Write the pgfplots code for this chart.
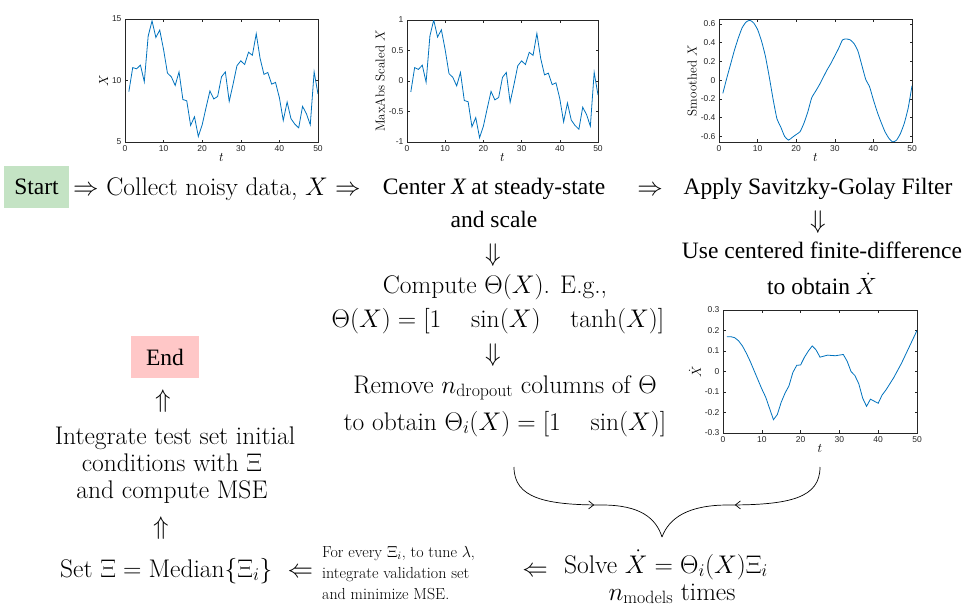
\RequirePackage{fix-cm}
\documentclass[border=0pt]{standalone}
\usepackage{fontspec}
\usepackage{pgfplots}
\usepackage{pgfplotstable}
\pgfplotsset{compat=1.18}
\usetikzlibrary{decorations.markings,arrows.meta}
\newfontfamily\gar{Liberation Serif}
\newfontfamily\tickfont{Liberation Sans}
\definecolor{mblue}{HTML}{0072BD}
\definecolor{mgray}{HTML}{262626}
\definecolor{startg}{HTML}{C4E3C4}
\definecolor{endr}{HTML}{FFC7C7}

\pgfplotstableread{
t X S G D
1 9.10 -0.18 -0.14 0.170
2 11.05 0.22 0.02 0.170
3 10.95 0.19 0.17 0.165
4 11.25 0.26 0.32 0.150
5 9.90 -0.02 0.45 0.125
6 13.60 0.74 0.56 0.090
7 14.85 1.00 0.62 0.050
8 13.50 0.72 0.64 0.005
9 14.10 0.84 0.61 -0.040
10 12.50 0.51 0.54 -0.085
11 10.60 0.12 0.42 -0.125
12 10.30 0.06 0.26 -0.180
13 9.60 -0.08 0.04 -0.235
14 10.70 0.14 -0.20 -0.210
15 8.45 -0.32 -0.41 -0.150
16 8.35 -0.34 -0.50 -0.105
17 6.35 -0.75 -0.60 -0.070
18 7.05 -0.60 -0.64 -0.005
19 5.45 -0.93 -0.61 0.030
20 6.40 -0.74 -0.58 0.032
21 7.80 -0.45 -0.55 0.070
22 9.15 -0.17 -0.46 0.100
23 8.50 -0.31 -0.34 0.125
24 8.70 -0.27 -0.19 0.105
25 10.30 0.06 -0.12 0.070
26 10.70 0.14 -0.05 0.075
27 8.30 -0.35 0.03 0.080
28 9.70 -0.06 0.11 0.078
29 11.20 0.25 0.18 0.077
30 11.60 0.33 0.26 0.080
31 11.30 0.27 0.34 0.083
32 12.30 0.47 0.43 0.050
33 12.05 0.42 0.44 0.000
34 13.80 0.78 0.43 -0.020
35 11.80 0.37 0.39 -0.060
36 10.50 0.10 0.31 -0.130
37 10.65 0.13 0.16 -0.170
38 9.70 -0.06 0.01 -0.135
39 9.85 -0.03 -0.07 -0.145
40 8.60 -0.29 -0.21 -0.155
41 6.75 -0.67 -0.34 -0.115
42 8.25 -0.36 -0.45 -0.090
43 6.90 -0.64 -0.55 -0.060
44 6.45 -0.73 -0.62 -0.030
45 6.15 -0.79 -0.66 0.005
46 7.90 -0.43 -0.64 0.040
47 7.30 -0.55 -0.57 0.080
48 6.40 -0.74 -0.46 0.120
49 10.70 0.14 -0.30 0.160
50 8.90 -0.23 -0.06 0.200
}\datatable

\pgfplotsset{
  mplot/.style={
    scale only axis, width=193pt, height=123pt,
    anchor=north west,
    xmin=0, xmax=50, xtick={0,10,20,30,40,50},
    tick align=inside, major tick length=2.5pt,
    axis line style={mgray, line width=0.5pt},
    every tick/.style={mgray, line width=0.5pt},
    ticklabel style={font=\tickfont\fontsize{8.5}{9}\selectfont, text=mgray},
    /pgf/number format/assume math mode=true,
    xlabel={$t$},
    label style={font=\fontsize{13}{14}\selectfont},
    xlabel style={yshift=5pt},
    ylabel style={yshift=-3pt},
  },
  mline/.style={color=mblue, line width=0.8pt, mark=none},
}

\tikzset{
  big/.style={font=\fontsize{25.5}{30}\selectfont, inner sep=0pt, anchor=base},
  gbig/.style={font=\gar\fontsize{23.5}{28}\selectfont, inner sep=0pt, anchor=base},
  marr/.style={line width=0.7pt, postaction={decorate}, decoration={markings, mark=at position #1 with {\arrow{Straight Barb[length=5pt,width=8pt,line width=0.7pt]}}}},
}

\begin{document}
\begin{tikzpicture}
\path[use as bounding box] (0pt,0pt) rectangle (964pt,-608pt);

\begin{axis}[mplot, at={(125pt,-19pt)}, ymin=5, ymax=15, ytick={5,10,15}, ylabel={$X$}]
\addplot[mline] table[x=t, y=X] {\datatable};
\end{axis}

\begin{axis}[mplot, at={(407pt,-20pt)}, width=191pt, height=122pt, ymin=-1, ymax=1, ytick={-1,-0.5,0,0.5,1}, ylabel={MaxAbs Scaled $X$}]
\addplot[mline] table[x=t, y=S] {\datatable};
\end{axis}

\begin{axis}[mplot, at={(719pt,-19pt)}, ymin=-0.66, ymax=0.653, ytick={-0.6,-0.4,-0.2,0,0.2,0.4,0.6}, ylabel={Smoothed $X$}]
\addplot[mline, smooth, tension=0.3] table[x=t, y=G] {\datatable};
\end{axis}

\begin{axis}[mplot, at={(723pt,-310pt)}, width=194pt, ymin=-0.3, ymax=0.3, ytick={-0.3,-0.2,-0.1,0,0.1,0.2,0.3}, ylabel={$\dot{X}$}]
\addplot[mline] table[x=t, y=D] {\datatable};
\end{axis}

\begin{scope}[x=1pt, y=-1pt]
% start / end boxes
\node[fill=startg, minimum width=65pt, minimum height=42pt, inner sep=0pt, font=\gar\fontsize{23.5}{28}\selectfont] at (36.5,187) {Start};
\node[fill=endr, minimum width=68pt, minimum height=42pt, inner sep=0pt, font=\gar\fontsize{23.5}{28}\selectfont] at (165,357) {End};

% top row
\node[big, anchor=base west] at (73,195) {$\Rightarrow$ Collect noisy data, $X\Rightarrow$};
\node[gbig] at (494,194) {Center {\itshape X} at steady-state};
\node[gbig] at (494,227) {and scale};
\node[big] at (650,195) {$\Rightarrow$};
\node[gbig] at (818,194) {Apply Savitzky-Golay Filter};
\node[big, anchor=center] at (818,222) {$\Downarrow$};
\node[gbig] at (822,258) {Use centered finite-difference};
\node[gbig] at (822,294) {to obtain $\dot{X}$};

% middle column
\node[big, anchor=center] at (493,255) {$\Downarrow$};
\node[big] at (495,293) {Compute $\Theta(X)$. E.g.,};
\node[big] at (498,327) {$\Theta(X) = [1 \quad \sin(X) \quad \tanh(X)]$};
\node[big, anchor=center] at (493,355) {$\Downarrow$};
\node[big] at (505,393) {Remove $n_{\mathrm{dropout}}$ columns of $\Theta$};
\node[big] at (505,430) {to obtain $\Theta_i(X) = [1 \quad \sin(X)]$};

% left column
\node[big, anchor=center] at (163,401) {$\Uparrow$};
\node[big] at (175,444) {Integrate test set initial};
\node[big] at (172,471) {conditions with $\Xi$};
\node[big] at (172,498) {and compute MSE};
\node[big, anchor=center] at (161,528) {$\Uparrow$};
\node[big, anchor=base west] at (60,577) {Set $\Xi = \mathrm{Median}\{\Xi_i\}$ \ $\Leftarrow$};

% bottom
\node[font=\fontsize{16}{21}\selectfont, inner sep=0pt, align=left, anchor=west] at (322,573) {For every $\Xi_i$, to tune $\lambda$,\\integrate validation set\\and minimize MSE.};
\node[big] at (535,576) {$\Leftarrow$};
\node[big] at (666,573) {Solve $\dot{X} = \Theta_i(X)\Xi_i$};
\node[big] at (672,600) {$n_{\mathrm{models}}$ times};

% curved arrows
\draw[marr=0.55]
  (514,467) .. controls (514,498) and (545,505) .. (602,505) .. controls (640,505) and (656,518) .. (662,537);
\draw[marr=0.55]
  (820,467) .. controls (820,498) and (790,505) .. (728,505) .. controls (688,505) and (669,518) .. (662,537);
\end{scope}
\end{tikzpicture}
\end{document}
